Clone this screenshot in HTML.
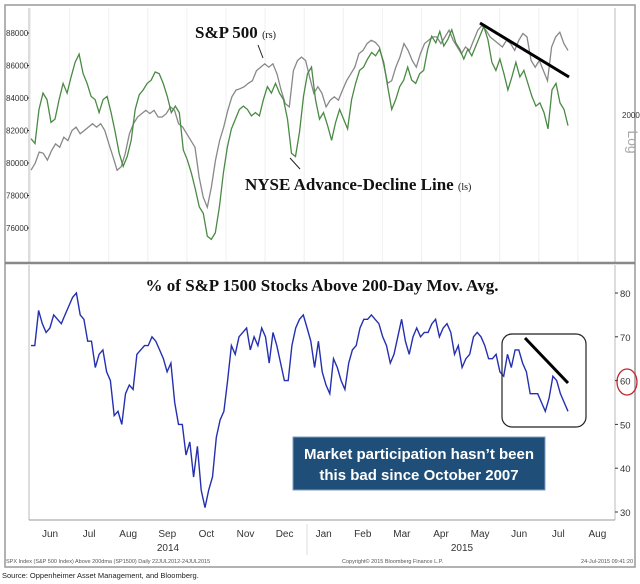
<!DOCTYPE html>
<html><head><meta charset="utf-8"><style>
html,body{margin:0;padding:0;background:#fff;width:640px;height:584px;overflow:hidden}
svg{display:block}
</style></head><body>
<svg id="chart" width="640" height="584" viewBox="0 0 640 584" xmlns="http://www.w3.org/2000/svg">
  <rect x="5" y="5" width="630" height="562" fill="#fff" stroke="#999" stroke-width="1.5"/>
  <g id="grid"></g>
  <line x1="29" y1="8" x2="29" y2="262" stroke="#bbb"/>
  <line x1="615" y1="8" x2="615" y2="262" stroke="#bbb"/>
  <line x1="5" y1="263" x2="635" y2="263" stroke="#888" stroke-width="2.5"/>
  <line x1="29" y1="265" x2="29" y2="520" stroke="#bbb"/>
  <line x1="615" y1="265" x2="615" y2="520" stroke="#bbb"/>
  <line x1="29" y1="520" x2="615" y2="520" stroke="#999"/>
  <g id="topTicks"></g>
  <g id="botTicks"></g>
  <g id="months"></g>
  <text x="622" y="118" font-family="Liberation Sans Narrow, Liberation Sans, sans-serif" font-size="8" fill="#333">2000</text>
  <text x="628" y="142" font-family="Liberation Sans, sans-serif" font-size="14" fill="#aaa" transform="rotate(90 628 142)" text-anchor="middle">Log</text>
  <g id="series"></g>
  <text x="195" y="38" font-family="Liberation Serif, serif" font-weight="bold" font-size="17" fill="#111">S&amp;P 500 <tspan font-size="10" font-weight="normal">(rs)</tspan></text>
  <line x1="258" y1="45" x2="263" y2="58" stroke="#222"/>
  <text x="245" y="190" font-family="Liberation Serif, serif" font-weight="bold" font-size="17" fill="#111">NYSE Advance-Decline Line <tspan font-size="10" font-weight="normal">(ls)</tspan></text>
  <line x1="290" y1="158" x2="300" y2="169" stroke="#222"/>
  <line x1="480" y1="23" x2="569" y2="77" stroke="#000" stroke-width="3"/>
  <text x="322" y="291" text-anchor="middle" font-family="Liberation Serif, serif" font-weight="bold" font-size="17" fill="#111">% of S&amp;P 1500 Stocks Above 200-Day Mov. Avg.</text>
  <rect x="502" y="334" width="84" height="93" rx="10" fill="none" stroke="#222" stroke-width="1.2"/>
  <line x1="525" y1="338" x2="568" y2="383" stroke="#000" stroke-width="3"/>
  <rect x="293" y="437" width="252" height="53" fill="#1f4e79" stroke="#7f9cc0"/>
  <text x="419" y="459" text-anchor="middle" font-family="Liberation Sans, sans-serif" font-weight="bold" font-size="15" fill="#fff">Market participation hasn’t been</text>
  <text x="419" y="480" text-anchor="middle" font-family="Liberation Sans, sans-serif" font-weight="bold" font-size="15" fill="#fff">this bad since October 2007</text>
  <ellipse cx="627" cy="382" rx="10" ry="13" fill="none" stroke="#c0282d" stroke-width="1.3"/>
  <text x="168" y="551" text-anchor="middle" font-family="Liberation Sans Narrow, Liberation Sans, sans-serif" font-size="10" fill="#333">2014</text>
  <text x="462" y="551" text-anchor="middle" font-family="Liberation Sans Narrow, Liberation Sans, sans-serif" font-size="10" fill="#333">2015</text>
  <line x1="307" y1="524" x2="307" y2="555" stroke="#ddd"/>
  <text x="6" y="563" font-family="Liberation Sans Narrow, Liberation Sans, sans-serif" font-size="5.5" fill="#555">SPX Index (S&amp;P 500 Index) Above 200dma (SP1500) Daily 22JUL2012-24JUL2015</text>
  <text x="342" y="563" font-family="Liberation Sans Narrow, Liberation Sans, sans-serif" font-size="5.5" fill="#555">Copyright© 2015 Bloomberg Finance L.P.</text>
  <text x="633" y="563" text-anchor="end" font-family="Liberation Sans Narrow, Liberation Sans, sans-serif" font-size="5.5" fill="#555">24-Jul-2015 09:41:20</text>
  <text x="2" y="578" font-family="Liberation Sans, sans-serif" font-size="7.5" fill="#222">Source: Oppenheimer Asset Management, and Bloomberg.</text>
</svg>
<script>
// Data arrays (uniformly spaced in time, ~mid-May 2014 to late Jul 2015)
const pctValues = [68,68,76,73,71,72,75,74,73,75,77,79,80,75,74,69,69,63,66,67,62,60,52,53,50,57,59,58,66,67,68,68,70,69,67,65,62,64,55,50,50,43,46,38,45,35,31,35,38,47,51,53,60,68,66,70,71,72,67,70,68,72,70,64,71,68,64,60,60,68,72,74,75,72,69,63,69,62,59,57,65,63,60,58,64,67,68,72,74,74,75,74,73,70,68,64,66,70,74,69,66,70,72,70,71,71,73,74,70,72,73,71,66,68,63,65,66,70,71,70,68,65,65,66,62,61,66,63,67,67,64,62,57,57,57,55,53,56,61,60,57,55,53];
const adValues = [81.5,81.2,83.3,84.3,83.9,82.5,82.7,83.9,84.9,84.3,85.3,86.2,86.7,85.5,84.9,84.1,83.9,83.1,83.9,84.1,83.1,81.9,80.6,79.8,80.4,81.4,83.3,84.2,84.5,84.9,85.1,85.6,85.5,84.9,84.1,83.1,83.5,83.1,80.8,80.2,79.4,78.4,77.3,76.9,75.5,75.3,75.7,77.3,79.4,81.0,82.1,82.7,83.3,83.5,83.3,82.9,83.1,82.9,83.9,84.7,84.3,84.9,84.3,83.9,82.7,80.6,80.4,81.9,84.1,85.5,85.9,83.9,82.7,83.1,82.3,81.4,82.5,83.3,82.7,82.1,83.9,84.9,85.7,85.9,86.4,86.8,86.6,87.0,86.2,84.7,83.3,83.9,84.7,85.1,85.9,85.1,84.9,85.5,85.7,87.0,87.8,87.4,88.1,87.2,87.6,88.2,87.4,87.0,86.4,87.0,86.6,87.2,87.8,88.4,87.6,86.2,85.7,86.4,85.5,84.5,85.3,86.2,85.3,85.7,84.9,84.1,83.5,83.7,83.1,82.1,84.5,84.9,83.7,83.3,82.3];
const spxValues = [1921,1931,1948,1946,1936,1950,1960,1955,1970,1965,1980,1985,1975,1980,1985,1990,1985,1990,1980,1960,1941,1921,1926,1946,1975,1990,2000,2005,2010,2005,2010,2000,2000,2005,2015,2010,1990,1985,1975,1965,1955,1911,1881,1866,1896,1936,1965,1985,2010,2030,2040,2042,2045,2050,2054,2069,2074,2079,2074,2079,2064,2040,2020,2015,2069,2084,2089,2084,2059,2035,2045,2035,2015,2025,2030,2025,2040,2054,2064,2074,2094,2099,2109,2114,2111,2104,2079,2050,2054,2074,2089,2109,2099,2084,2074,2094,2109,2114,2119,2119,2109,2119,2129,2114,2104,2094,2104,2099,2114,2129,2136,2129,2119,2114,2109,2104,2114,2109,2099,2114,2124,2119,2084,2074,2084,2069,2054,2104,2119,2126,2109,2099];
const leftTicks = [88000,86000,84000,82000,80000,78000,76000];
const pctTicks = [80,70,60,50,40,30];
const monthLabels = ["Jun","Jul","Aug","Sep","Oct","Nov","Dec","Jan","Feb","Mar","Apr","May","Jun","Jul","Aug"];

const NS = "http://www.w3.org/2000/svg";
const X0 = 31, X1 = 568;
function xAt(i, n){ return X0 + i*(X1-X0)/(n-1); }
function yLeft(v){ return 33 + (88000 - v)*16.25/1000; }
function yAD(vk){ return yLeft(vk*1000); }
function yRight(s){ return 117 + (2000 - s)*0.673; }
function yPct(v){ return 293 + (80 - v)*4.38; }
function monthX(k){ return 50 + k*39.1; }

function mk(tag, attrs, parent){ const e=document.createElementNS(NS,tag); for(const k in attrs) e.setAttribute(k,attrs[k]); parent.appendChild(e); return e; }
const font = "Liberation Sans Narrow, Liberation Sans, sans-serif";

const grid = document.getElementById('grid');
monthLabels.forEach((m,k)=>{
  const gx = monthX(k)-19.5;
  const l = mk('line',{x1:gx,y1:8,x2:gx,y2:262,stroke:'#f0f0f0'},grid);
  
  
});

const tt = document.getElementById('topTicks');
leftTicks.forEach(v=>{
  const y = yLeft(v);
  const t = mk('text',{x:6,y:y+3,'font-family':font,'font-size':8,fill:'#333'},tt);
  t.textContent = v;
  
  
  const l = mk('line',{x1:27,y1:y,x2:29,y2:y,stroke:'#333'},tt);
  
  
});
const bt = document.getElementById('botTicks');
pctTicks.forEach(v=>{
  const y = yPct(v);
  const t = mk('text',{x:620,y:y+4,'font-family':font,'font-size':9.5,fill:'#333'},bt);
  t.textContent = v;
  
  
  const l = mk('line',{x1:615,y1:y,x2:618,y2:y,stroke:'#333'},bt);
  
  
});
const mg = document.getElementById('months');
monthLabels.forEach((m,k)=>{
  const t = mk('text',{x:monthX(k),y:537,'text-anchor':'middle','font-family':font,'font-size':10,fill:'#333'},mg);
  t.textContent = m;
  
  
});

function pathOf(vals, yf){ return vals.map((v,i)=>(i?'L':'M')+xAt(i,vals.length).toFixed(1)+' '+yf(v).toFixed(1)).join(' '); }
const sg = document.getElementById('series');
const spx = mk('path',{d:pathOf(spxValues,yRight),fill:'none',stroke:'#888','stroke-width':1.3},sg);


const ad = mk('path',{d:pathOf(adValues,yAD),fill:'none',stroke:'#4a8a44','stroke-width':1.3},sg);


const pc = mk('path',{d:pathOf(pctValues,yPct),fill:'none',stroke:'#2530b0','stroke-width':1.4},sg);


</script>
</body></html>
